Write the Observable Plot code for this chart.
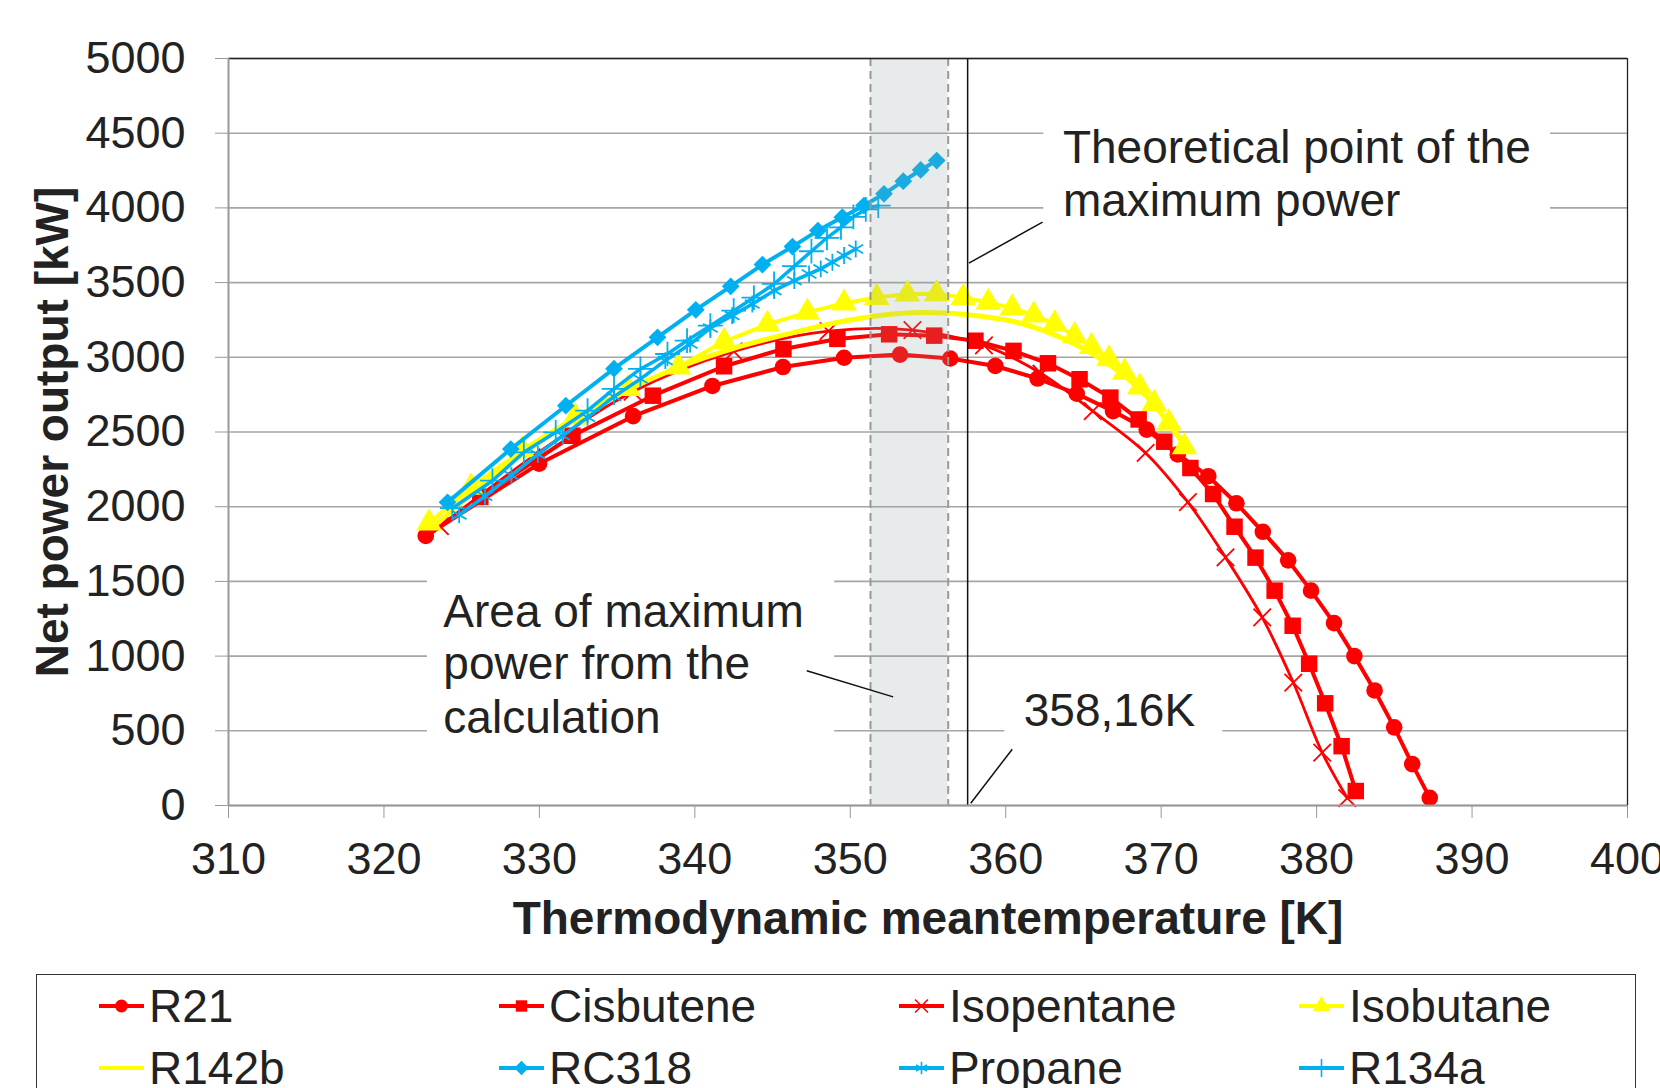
<!DOCTYPE html>
<html><head><meta charset="utf-8">
<script src="https://cdn.jsdelivr.net/npm/d3@7"></script>
<script src="https://cdn.jsdelivr.net/npm/@observablehq/plot@0.6"></script>
<style>
html,body{margin:0;padding:0;background:#fff;overflow:hidden;}
body{width:1660px;height:1088px;font-family:"Liberation Sans",Arial,sans-serif;}
#legend{position:relative;margin-top:14px;margin-left:36px;width:1600px;height:132px;border:1.5px solid #333;box-sizing:border-box;display:grid;grid-template-columns:repeat(4,400px);grid-auto-rows:62px;padding-left:60px;}
.item{display:flex;align-items:center;font-size:46px;color:#222;white-space:nowrap;}
.item svg{margin-right:2px;flex:none;}
</style></head><body><div id="chart"></div><div id="legend"></div>
<script>
// ---------- data ----------
const xTicks = [310,320,330,340,350,360,370,380,390,400];
const yTicks = [0,500,1000,1500,2000,2500,3000,3500,4000,4500,5000];

const r21T = [322.69,329.98,336.03,341.13,345.67,349.6,353.2,356.43,359.33,362.05,364.57,366.9,369.07,371.07,373.03,374.84,376.54,378.17,379.64,381.12,382.43,383.73,384.99,386.15,387.28];
const r21P = [1804,2288,2606,2808,2935,2997,3018,2992,2942,2858,2756,2640,2516,2350,2204,2023,1832,1641,1438,1221,1000,770,523,277,51];

const cisT = [326.2,332.13,337.3,341.88,345.7,349.17,352.5,355.4,358.05,360.5,362.72,364.75,366.73,368.55,370.2,371.88,373.34,374.72,376.07,377.3,378.46,379.52,380.55,381.61,382.52];
const cisP = [2065,2475,2743,2940,3056,3123,3154,3145,3111,3043,2960,2853,2730,2584,2435,2259,2085,1866,1659,1438,1203,949,684,397,97];

const isopT = [323.6,329.5,336.0,342.5,348.6,354.0,358.6,362.3,365.6,369.0,371.72,374.14,376.5,378.5,380.36,381.97];
const isopP = [1870,2330,2770,3040,3175,3182,3080,2890,2640,2360,2030,1661,1259,823,354,50];

const isobT = [322.9,325.6,328.9,332.3,335.7,338.95,341.88,344.67,347.24,349.6,351.7,353.67,355.55,357.27,358.88,360.42,361.81,363.15,364.43,365.52,366.64,367.65,368.63,369.55,370.5,371.5];
const isobP = [1890,2130,2380,2600,2790,2935,3105,3220,3301,3362,3400,3423,3425,3400,3367,3329,3282,3222,3144,3071,2989,2900,2800,2690,2560,2400];

const r142T = [323.3,327,331,335,339,342.5,346.4,350,353.9,357.5,360.75,364,367.2,369.3,371.7];
const r142P = [1880,2200,2500,2745,2935,3060,3167,3250,3298,3285,3233,3111,2911,2711,2389];

const rc318T = [324.09,328.16,331.7,334.8,337.6,340.06,342.31,344.35,346.28,347.92,349.49,350.88,352.17,353.41,354.53,355.56];
const rc318P = [2029,2386,2676,2924,3134,3318,3475,3621,3741,3848,3938,4016,4094,4179,4254,4317];

const propT = [324.84,326.5,328.2,329.9,331.5,333.1,334.8,336.5,338.1,339.7,341.0,342.4,343.7,345.1,346.4,347.35,348.1,348.85,349.6,350.35];
const propP = [1945,2070,2210,2350,2475,2598,2737,2855,2978,3089,3196,3279,3357,3446,3513,3558,3592,3636,3681,3725];

const r134T = [324.4,326.98,329.0,331.05,333.1,334.8,336.5,338.24,339.5,341.0,342.5,343.8,345.1,346.4,347.5,348.5,349.4,350.2,351.0,351.8];
const r134P = [1990,2174,2364,2498,2643,2788,2922,3022,3112,3212,3312,3400,3491,3610,3710,3800,3870,3940,3990,4015];

// annotation values
const bandT = [351.3, 356.3];
const theoT = 357.55;
const noteT = [363.68, 363.68, 323.82, 323.82, 323.82, 361.16];
const noteP = [4399, 4046, 1293, 943, 581, 632];
const noteText = ["Theoretical point of the","maximum power","Area of maximum","power from the","calculation","358,16K"];
const boxT1 = [362.45, 322.8, 359.94];
const boxT2 = [395.05, 349.0, 373.96];
const boxP1 = [3800, 320, 380];
const boxP2 = [4650, 1600, 780];
const leadT1 = [357.63, 347.2, 357.75];
const leadP1 = [3630, 902, 15];
const leadT2 = [362.37, 352.76, 360.42];
const leadP2 = [3905, 727, 377];

// ---------- styles ----------
const RED = "#FF0000", YEL = "#FFFF00", BLUE = "#00B0F0";
const series = [
  {name:"R21", T:r21T, P:r21P, color:RED, symbol:"circle", r:8.3, filled:true, width:4, d3s:d3.symbolCircle},
  {name:"Cisbutene", T:cisT, P:cisP, color:RED, symbol:"square", r:9.3, filled:true, width:4, d3s:d3.symbolSquare},
  {name:"Isopentane", T:isopT, P:isopP, color:RED, symbol:"times", r:8, filled:false, width:2.8, curve:"catmull-rom", d3s:d3.symbolTimes},
  {name:"Isobutane", T:isobT, P:isobP, color:YEL, symbol:"triangle", r:9.5, filled:true, width:4, d3s:d3.symbolTriangle},
  {name:"R142b", T:r142T, P:r142P, color:YEL, symbol:null, width:5, curve:"catmull-rom"},
  {name:"RC318", T:rc318T, P:rc318P, color:BLUE, symbol:"diamond2", r:8, filled:true, width:4, d3s:d3.symbolDiamond2},
  {name:"Propane", T:propT, P:propP, color:BLUE, symbol:"asterisk", r:8, filled:false, width:3.5, d3s:d3.symbolAsterisk},
  {name:"R134a", T:r134T, P:r134P, color:BLUE, symbol:"plus", r:8, filled:false, width:3.5, d3s:d3.symbolPlus}
];

const FONT = '"Liberation Sans", Arial, sans-serif';
const marks = [];
marks.push(Plot.gridY(yTicks, {stroke:"#a6a6a6", strokeOpacity:1, strokeWidth:1.6}));
for (const s of series) {
  const d = s.T.map((t,i)=>({T:t, P:s.P[i]}));
  marks.push(Plot.line(d, {x:"T", y:"P", stroke:s.color, strokeWidth:s.width, curve:s.curve||"linear"}));
  if (s.symbol) {
    marks.push(Plot.dot(d, {x:"T", y:"P", symbol:s.symbol, r:s.r,
      fill: s.filled ? s.color : "none", stroke: s.filled ? "none" : s.color, strokeWidth: s.filled ? 0 : 1.8}));
  }
}
// shaded band (overlay), dashed edges, theoretical line
marks.push(Plot.rect([{a:bandT[0], b:bandT[1]}], {x1:"a", x2:"b", fill:"#8c9a9a", fillOpacity:0.2}));
marks.push(Plot.ruleX(bandT, {stroke:"#999", strokeWidth:2, strokeDasharray:"8,5"}));
marks.push(Plot.ruleX([theoT], {stroke:"#111", strokeWidth:1.5}));
// annotation boxes, leaders, texts
const boxes = boxT1.map((t,i)=>({x1:t, x2:boxT2[i], y1:boxP1[i], y2:boxP2[i]}));
marks.push(Plot.rect(boxes, {x1:"x1", x2:"x2", y1:"y1", y2:"y2", fill:"white"}));
const leads = leadT1.map((t,i)=>({x1:t, y1:leadP1[i], x2:leadT2[i], y2:leadP2[i]}));
marks.push(Plot.link(leads, {x1:"x1", y1:"y1", x2:"x2", y2:"y2", stroke:"#111", strokeWidth:1.5}));
const notes = noteT.map((t,i)=>({T:t, P:noteP[i], text:noteText[i]}));
marks.push(Plot.text(notes, {x:"T", y:"P", text:"text", textAnchor:"start", lineAnchor:"middle", fontSize:46, fill:"#222", fontFamily:FONT}));
// frame
marks.push(Plot.ruleY([5000], {stroke:"#222", strokeWidth:1.3}));
marks.push(Plot.ruleX([400], {stroke:"#222", strokeWidth:1.3}));
marks.push(Plot.ruleX([310], {stroke:"#999", strokeWidth:2}));
marks.push(Plot.ruleY([0], {stroke:"#999", strokeWidth:2}));
// axes
marks.push(Plot.axisX(xTicks, {tickSize:13, tickPadding:24, fontSize:45, stroke:"#999", fill:"#222", label:null, tickFormat:d=>String(d)}));
marks.push(Plot.axisY(yTicks, {tickSize:13, tickPadding:30, fontSize:45, stroke:"#999", fill:"#222", label:null, tickFormat:d=>String(d)}));
// axis titles
marks.push(Plot.text(["Thermodynamic meantemperature [K]"], {frameAnchor:"bottom", dy:114, text:d=>d, textAnchor:"middle", lineAnchor:"middle", fontSize:46, fontWeight:"bold", fill:"#222", fontFamily:FONT}));
marks.push(Plot.text(["Net power output [kW]"], {frameAnchor:"left", dx:-175, rotate:-90, text:d=>d, textAnchor:"middle", lineAnchor:"middle", fontSize:46, fontWeight:"bold", fill:"#222", fontFamily:FONT}));

const chart = Plot.plot({
  width:1660, height:960,
  marginLeft:228, marginRight:33, marginTop:58, marginBottom:155,
  x:{domain:[310,400]}, y:{domain:[0,5000]},
  style:{fontFamily:FONT, background:"white", overflow:"visible"},
  marks
});
document.getElementById("chart").appendChild(chart);

// ---------- legend ----------
const leg = d3.select("#legend");
for (const s of series) {
  const it = leg.append("div").attr("class","item");
  const svg = it.append("svg").attr("width",50).attr("height",30);
  svg.append("line").attr("x1",2).attr("x2",47).attr("y1",15).attr("y2",15).attr("stroke",s.color).attr("stroke-width",4);
  if (s.d3s) {
    const sz = s.filled ? 130 : 110;
    svg.append("path").attr("d", d3.symbol(s.d3s, sz)()).attr("transform","translate(24.5,15)")
      .attr("fill", s.filled ? s.color : "none").attr("stroke", s.filled ? "none" : s.color).attr("stroke-width",1.6);
  }
  it.append("span").text(s.name);
}
</script></body></html>
